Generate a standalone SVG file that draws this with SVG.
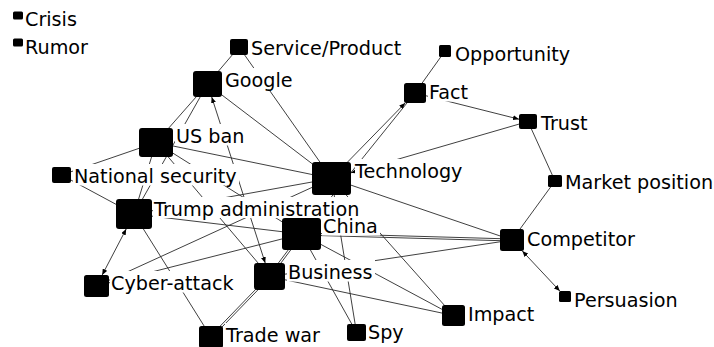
<svg xmlns="http://www.w3.org/2000/svg" width="714" height="347" viewBox="0 0 714 347">
  <style>
    .edges line { stroke: #2a2a2a; stroke-width: 0.9; fill: none; }
    .mask rect { fill: #ffffff; }
    .node rect { fill: #000000; }
    .node text { font-family: "DejaVu Sans", Verdana, sans-serif; font-size: 19.2px; fill: #000000; }
  </style>
  <defs>
    <marker id="arrow" viewBox="0 0 6 5" refX="6" refY="2.5" markerWidth="6" markerHeight="5" markerUnits="userSpaceOnUse" orient="auto-start-reverse">
      <path d="M0,0 L6,2.5 L0,5 z" fill="#000000"/>
    </marker>
  </defs>
  <rect width="714" height="347" fill="#ffffff"/>

  <!-- connectors (centre to centre; arrowed ones end on the square's border) -->
  <g id="connectors" class="edges">
    <line x1="239" y1="47" x2="207.5" y2="84"/>
    <line x1="239" y1="47" x2="331.5" y2="178.5"/>
    <line x1="207.5" y1="84" x2="331.5" y2="178.5"/>
    <line x1="207.5" y1="84" x2="156" y2="142.5"/>
    <line x1="207.5" y1="84" x2="134" y2="214"/>
    <line x1="211.7" y1="97" x2="265.2" y2="263" marker-start="url(#arrow)" marker-end="url(#arrow)"/>
    <line x1="156" y1="142.5" x2="331.5" y2="178.5"/>
    <line x1="156" y1="142.5" x2="61.5" y2="175"/>
    <line x1="156" y1="142.5" x2="134" y2="214"/>
    <line x1="156" y1="142.5" x2="269.5" y2="276.5"/>
    <line x1="156" y1="142.5" x2="301.5" y2="234"/>
    <line x1="61.5" y1="175" x2="134" y2="214"/>
    <line x1="134" y1="214" x2="331.5" y2="178.5"/>
    <line x1="134" y1="214" x2="301.5" y2="234"/>
    <line x1="134" y1="214" x2="211" y2="337"/>
    <line x1="126.2" y1="229" x2="102.2" y2="275" marker-start="url(#arrow)" marker-end="url(#arrow)"/>
    <line x1="96.5" y1="286" x2="331.5" y2="178.5"/>
    <line x1="96.5" y1="286" x2="301.5" y2="234"/>
    <line x1="331.5" y1="178.5" x2="405.2" y2="103" marker-end="url(#arrow)"/>
    <line x1="415" y1="93" x2="445" y2="51"/>
    <line x1="415" y1="93" x2="301.5" y2="234"/>
    <line x1="415" y1="93" x2="519" y2="119.2" marker-end="url(#arrow)"/>
    <line x1="528" y1="121.5" x2="351" y2="172.8" marker-end="url(#arrow)"/>
    <line x1="528" y1="121.5" x2="555" y2="181"/>
    <line x1="555" y1="181" x2="512" y2="240"/>
    <line x1="522.3" y1="251" x2="559.8" y2="291" marker-start="url(#arrow)" marker-end="url(#arrow)"/>
    <line x1="331.5" y1="178.5" x2="512" y2="240"/>
    <line x1="331.5" y1="178.5" x2="453.5" y2="315.5"/>
    <line x1="331.5" y1="178.5" x2="356.5" y2="332.5"/>
    <line x1="302.3" y1="234.6" x2="270.3" y2="277.1"/>
    <line x1="300.7" y1="233.4" x2="268.7" y2="275.9"/>
    <line x1="301.5" y1="233" x2="512" y2="239"/>
    <line x1="301.5" y1="235" x2="512" y2="241"/>
    <line x1="301.5" y1="234" x2="453.5" y2="315.5"/>
    <line x1="301.5" y1="234" x2="356.5" y2="332.5"/>
    <line x1="269.5" y1="276.5" x2="453.5" y2="315.5"/>
    <line x1="269.5" y1="276.5" x2="512" y2="240"/>
    <line x1="270.2" y1="277.2" x2="211.7" y2="337.7"/>
    <line x1="268.8" y1="275.8" x2="210.3" y2="336.3"/>
  </g>

  <!-- white boxes behind the labels -->
  <g id="label-boxes" class="mask">
    <rect x="24" y="7" width="55" height="21.5"/>
    <rect x="24" y="35" width="67" height="21.5"/>
    <rect x="250" y="36" width="154" height="21.5"/>
    <rect x="224" y="68" width="71" height="21.5"/>
    <rect x="175" y="124" width="72" height="21.5"/>
    <rect x="355" y="159" width="117" height="21.5"/>
    <rect x="428" y="80" width="44" height="21.5"/>
    <rect x="454" y="42" width="118" height="21.5"/>
    <rect x="540" y="111" width="52" height="21.5"/>
    <rect x="564" y="170" width="150" height="21.5"/>
    <rect x="526" y="227" width="111" height="21.5"/>
    <rect x="573" y="288" width="108" height="21.5"/>
    <rect x="467" y="302" width="70" height="21.5"/>
    <rect x="367" y="320" width="39" height="21.5"/>
    <rect x="225" y="323" width="100" height="21.5"/>
    <rect x="287" y="260" width="88" height="21.5"/>
    <rect x="322" y="214" width="58" height="21.5"/>
    <rect x="153" y="197" width="211" height="21"/>
    <rect x="73" y="164" width="166" height="21.5"/>
    <rect x="110" y="271" width="127" height="21.5"/>
  </g>

  <!-- nodes -->
  <g id="crisis" class="node"><rect x="13" y="11.5" width="10" height="8" rx="1.5"/><text x="25" y="26">Crisis</text></g>
  <g id="rumor" class="node"><rect x="13" y="38.5" width="10" height="8" rx="1.5"/><text x="25" y="54">Rumor</text></g>
  <g id="service-product" class="node"><rect x="230" y="39" width="18" height="16" rx="2"/><text x="251" y="55">Service/Product</text></g>
  <g id="google" class="node"><rect x="193" y="71" width="29" height="26" rx="3"/><text x="225" y="87">Google</text></g>
  <g id="us-ban" class="node"><rect x="139" y="128" width="34" height="29" rx="3"/><text x="176" y="143">US ban</text></g>
  <g id="technology" class="node"><rect x="312" y="162" width="39" height="33" rx="3"/><text x="355" y="178">Technology</text></g>
  <g id="fact" class="node"><rect x="404" y="83" width="22" height="20" rx="2.5"/><text x="429" y="99">Fact</text></g>
  <g id="opportunity" class="node"><rect x="439" y="45" width="12" height="12" rx="1.5"/><text x="455" y="61">Opportunity</text></g>
  <g id="trust" class="node"><rect x="519" y="114" width="18" height="15" rx="2"/><text x="541" y="130">Trust</text></g>
  <g id="market-position" class="node"><rect x="548" y="175" width="14" height="12" rx="1.5"/><text x="565" y="189">Market position</text></g>
  <g id="competitor" class="node"><rect x="500" y="229" width="24" height="22" rx="2.5"/><text x="527" y="246">Competitor</text></g>
  <g id="persuasion" class="node"><rect x="559" y="291" width="12" height="11" rx="1.5"/><text x="574" y="307">Persuasion</text></g>
  <g id="impact" class="node"><rect x="442" y="305" width="23" height="21" rx="2.5"/><text x="468" y="321">Impact</text></g>
  <g id="spy" class="node"><rect x="347" y="324" width="19" height="17" rx="2"/><text x="368" y="339">Spy</text></g>
  <g id="trade-war" class="node"><rect x="199" y="326" width="24" height="22" rx="2.5"/><text x="226" y="342">Trade war</text></g>
  <g id="business" class="node"><rect x="254" y="263" width="31" height="27" rx="3"/><text x="288" y="279">Business</text></g>
  <g id="china" class="node"><rect x="282" y="218" width="39" height="32" rx="3"/><text x="323" y="233">China</text></g>
  <g id="trump-administration" class="node"><rect x="116" y="199" width="36" height="30" rx="3"/><text x="154" y="216">Trump administration</text></g>
  <g id="national-security" class="node"><rect x="52" y="167" width="19" height="16" rx="2"/><text x="74" y="183">National security</text></g>
  <g id="cyber-attack" class="node"><rect x="84" y="275" width="25" height="22" rx="2.5"/><text x="111" y="290">Cyber-attack</text></g>
</svg>
